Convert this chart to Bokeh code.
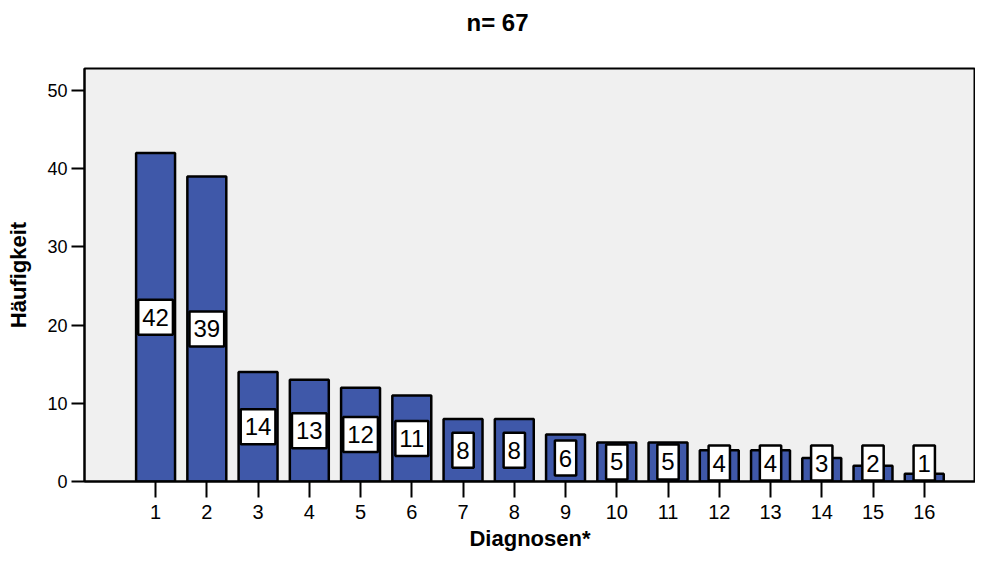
from bokeh.plotting import figure
from bokeh.models import Range1d, FixedTicker, Label, ColumnDataSource, Title
from bokeh.core.properties import value
from bokeh.embed import file_html
from bokeh.resources import INLINE

categories = list(range(1, 17))
counts = [42, 39, 14, 13, 12, 11, 8, 8, 6, 5, 5, 4, 4, 3, 2, 1]
y_ticks = [0, 10, 20, 30, 40, 50]
title_text = "n= 67"
x_title = "Diagnosen*"
y_title = "Häufigkeit"

FONT = "Liberation Sans"
BAR_COLOR = "#3F58A9"

p = figure(width=975, height=557,
           x_range=Range1d(-0.387, 17.0), y_range=Range1d(0, 52.8),
           output_backend="svg", toolbar_location=None,
           min_border_left=84, min_border_right=0,
           min_border_top=68, min_border_bottom=76)

p.background_fill_color = "#F0F0F0"
p.border_fill_color = "white"
p.outline_line_color = "black"
p.outline_line_width = 2
p.xgrid.visible = False
p.ygrid.visible = False

src = ColumnDataSource(dict(x=categories, top=counts))
p.vbar(x="x", top="top", width=0.76, bottom=0, source=src,
       fill_color=BAR_COLOR, line_color="black", line_width=2.5)

for c, v in zip(categories, counts):
    ly = max(v / 2, 2.35)
    p.add_layout(Label(x=c, y=ly, text=str(v), text_align="center",
                       text_baseline="middle", text_font=FONT,
                       text_font_size="24px", text_color="black",
                       background_fill_color="white",
                       border_line_color="black", border_line_width=2.5,
                       padding=dict(left=4, right=4, top=9, bottom=9)))

p.title.text = title_text
p.title.align = "left"
p.title.offset = 382
p.title.text_font = FONT
p.title.text_font_size = "24px"
p.title.text_font_style = "bold"
p.title.text_color = "black"

spacer = Title(text=" ", text_font_size="14px", text_font=FONT)
p.add_layout(spacer, "above")

xa = p.xaxis[0]
xa.ticker = FixedTicker(ticks=categories)
xa.axis_label = x_title
xa.axis_label_text_font = FONT
xa.axis_label_text_font_size = "22px"
xa.axis_label_text_font_style = "bold"
xa.axis_label_text_color = "black"
xa.axis_label_standoff = 4
xa.major_label_text_font = FONT
xa.major_label_text_font_size = "20px"
xa.major_label_text_color = "black"
xa.major_label_standoff = 7
xa.major_tick_out = 16
xa.major_tick_in = 0
xa.minor_tick_out = 0
xa.minor_tick_in = 0
xa.axis_line_width = 2
xa.major_tick_line_width = 2

ya = p.yaxis[0]
ya.ticker = FixedTicker(ticks=y_ticks)
ya.axis_label = y_title
ya.axis_label_text_font = FONT
ya.axis_label_text_font_size = "22px"
ya.axis_label_text_font_style = "bold"
ya.axis_label_text_color = "black"
ya.axis_label_standoff = 13
ya.major_label_text_font = FONT
ya.major_label_text_font_size = "18px"
ya.major_label_text_color = "black"
ya.major_label_standoff = 4
ya.major_label_orientation = "horizontal"
ya.major_tick_out = 13
ya.major_tick_in = 0
ya.minor_tick_out = 0
ya.minor_tick_in = 0
ya.axis_line_width = 2
ya.major_tick_line_width = 2

open("out.html", "w").write(file_html(p, INLINE))
